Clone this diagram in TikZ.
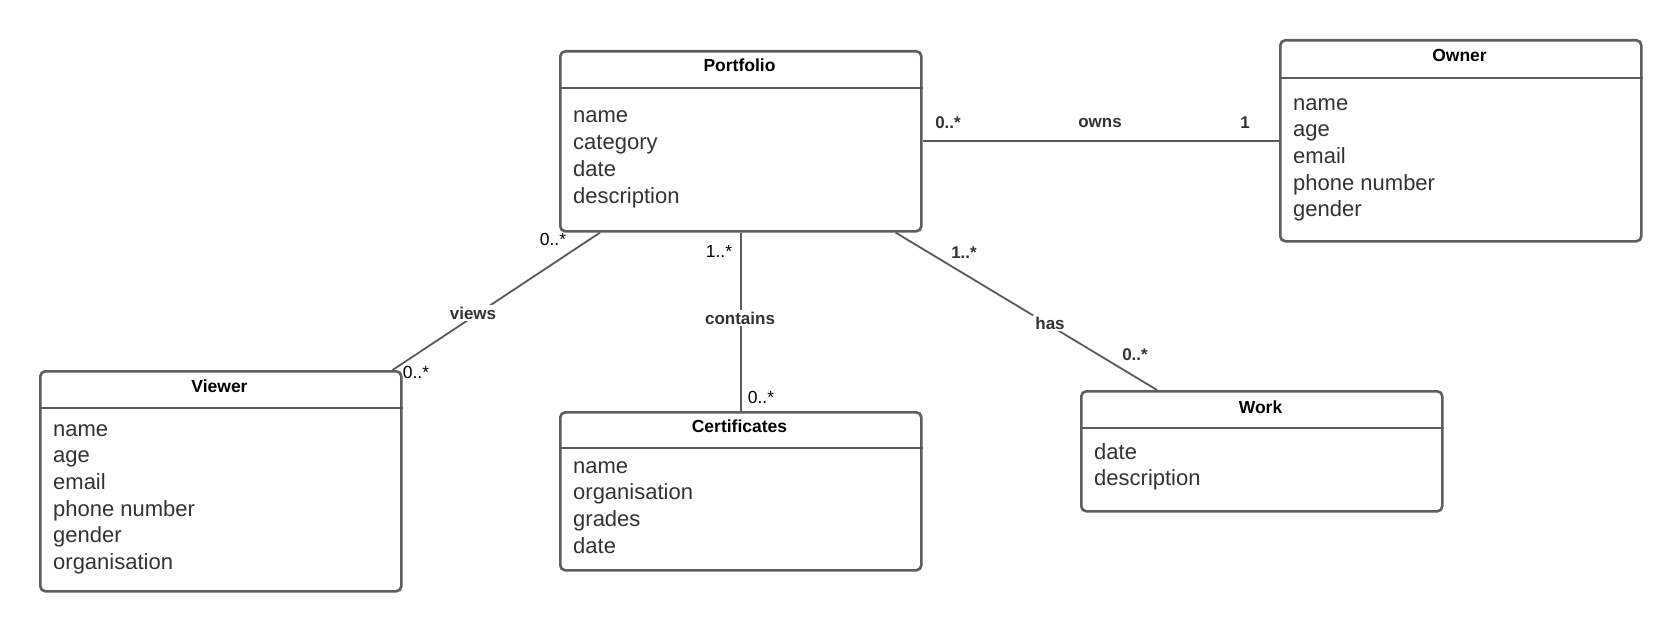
\documentclass[tikz,border=0pt]{standalone}
\usepackage{fontspec}
\setmainfont{Liberation Sans}
\definecolor{boxgray}{HTML}{5E5E5E}
\definecolor{linegray}{HTML}{5A5A5A}
\definecolor{txtgray}{HTML}{333333}
\tikzset{
  classbox/.style={draw=boxgray, line width=2.6pt, rounded corners=5pt, fill=white, anchor=north west, inner sep=0pt},
  headline/.style={draw=boxgray, line width=2.6pt},
  title/.style={font=\fontsize{17.5}{21}\selectfont\bfseries, text=black, anchor=base, inner sep=0pt},
  attrs/.style={font=\fontsize{22}{26.7}\selectfont, text=txtgray, align=left, anchor=base west, inner sep=0pt},
  conn/.style={draw=linegray, line width=1.8pt},
  mult/.style={font=\fontsize{17.5}{21}\selectfont, text=black, inner sep=1pt},
  multb/.style={font=\fontsize{17}{21}\selectfont\bfseries, text=txtgray, inner sep=1pt},
  assoc/.style={font=\fontsize{17}{21}\selectfont\bfseries, text=txtgray, fill=white, inner sep=2pt},
}
\begin{document}
\begin{tikzpicture}[x=1pt,y=-1pt]
\useasboundingbox (0,0) rectangle (1680,631);

% boxes
\node[classbox, minimum width=361pt, minimum height=180pt] (portfolio) at (559,50) {};
\node[classbox, minimum width=361pt, minimum height=201pt] (owner) at (1279,39) {};
\node[classbox, minimum width=361pt, minimum height=220pt] (viewer) at (39,370) {};
\node[classbox, minimum width=361pt, minimum height=158pt] (cert) at (559,411) {};
\node[classbox, minimum width=361pt, minimum height=120pt] (work) at (1080,390) {};

% header separators
\draw[headline] (portfolio.west |- 0,88) -- (portfolio.east |- 0,88);
\draw[headline] (owner.west |- 0,78) -- (owner.east |- 0,78);
\draw[headline] (viewer.west |- 0,408) -- (viewer.east |- 0,408);
\draw[headline] (cert.west |- 0,448) -- (cert.east |- 0,448);
\draw[headline] (work.west |- 0,428) -- (work.east |- 0,428);

% titles
\node[title] (tportfolio) at (739.5,72) {Portfolio};
\node[title] (towner) at (1459.5,62) {Owner};
\node[title] (tviewer) at (219.5,392) {Viewer};
\node[title] (tcert) at (739.5,432) {Certificates};
\node[title] (twork) at (1260.5,413) {Work};

% attributes (anchored at the baseline of the last line)
\node[attrs] (aportfolio) at (573,203.1) {name\\category\\date\\description};
\node[attrs] (aowner) at (1293,216.8) {name\\age\\email\\phone number\\gender};
\node[attrs] (aviewer) at (53,569.5) {name\\age\\email\\phone number\\gender\\organisation};
\node[attrs] (acert) at (573,553.1) {name\\organisation\\grades\\date};
\node[attrs] (awork) at (1094,485.7) {date\\description};

% connectors
\draw[conn] (portfolio.east) -- (owner.west |- portfolio.east);
\draw[conn] ([xshift=41pt]portfolio.south west) -- ([xshift=-10pt]viewer.north east);
\draw[conn] (portfolio.south) -- (cert.north);
\draw[conn] ([xshift=-27pt]portfolio.south east) -- ([xshift=77pt]work.north west);

% labels: owns
\node[multb] (o1) at (948,123) {0..*};
\node[multb] (o2) at (1100,123) {owns};
\node[multb] (o3) at (1245,123) {1};
% views
\node[mult] (v1) at (553,239) {0..*};
\node[assoc] (v2) at (473,313) {views};
\node[mult] (v3) at (416,372) {0..*};
% contains
\node[mult] (c1) at (719,251) {1..*};
\node[assoc] (c2) at (740,318) {contains};
\node[mult] (c3) at (761,397) {0..*};
% has
\node[multb] (h1) at (964,253) {1..*};
\node[assoc] (h2) at (1050,323) {has};
\node[multb] (h3) at (1135,355) {0..*};
\end{tikzpicture}
\end{document}
